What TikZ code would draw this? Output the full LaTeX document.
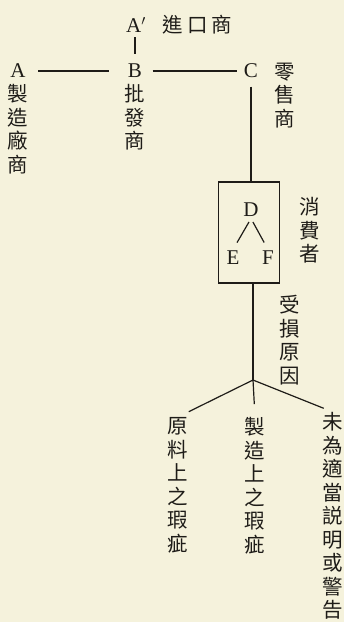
\documentclass[tikz,border=0pt]{standalone}
\usepackage{fontspec}
\newfontfamily\cjk{Noto Sans CJK TC}
\newfontfamily\latin{Liberation Serif}
\usetikzlibrary{positioning}
\definecolor{paper}{HTML}{F5F2DC}
\definecolor{ink}{HTML}{1E1C18}

\tikzset{
  letter/.style={font=\latin\fontsize{21}{24}\selectfont, inner sep=1pt, text=ink},
  hlabel/.style={font=\cjk\fontsize{20.5}{22}\selectfont, inner sep=0pt, text=ink},
  vlabel/.style={font=\cjk\fontsize{20.5}{23.5}\selectfont, align=center, inner sep=0pt, anchor=north, text=ink},
}

\begin{document}
\begin{tikzpicture}[x=1pt,y=-1pt,line width=1.2pt,draw=ink]
    \fill[paper] (0,0) rectangle (344,622);
    \useasboundingbox (0,0) rectangle (344,622);

    % channel
    \node[letter] (Ap) at (136,25) {A$'$};
    \node[hlabel,anchor=west] (importer) at (162,25) {進\hspace{4pt}口\hspace{4pt}商};
    \node[letter] (A) at (18,71) {A};
    \node[letter] (B) at (135,71) {B};
    \node[letter] (C) at (251,71) {C};
    \node[vlabel] (maker) at (18,84) {製\\造\\廠\\商};
    \node[vlabel] (wholesaler) at (135,84) {批\\發\\商};
    \node[vlabel] (retailer) at (285,62) {零\\售\\商};

    \draw[shorten <=3pt, shorten >=8pt] (Ap.south -| B) -- (B);
    \draw[shorten <=11pt, shorten >=17pt] (A) -- (B);
    \draw[shorten <=9pt, shorten >=5pt] (B) -- (C);

    % consumer
    \node[draw, minimum width=61pt, minimum height=101pt] (consumerbox) at (249,232.5) {};
    \draw[shorten <=7pt] (C) -- (C |- consumerbox.north);
    \node[letter] (D) at (251,210) {D};
    \node[letter] (E) at (233,258) {E};
    \node[letter] (F) at (268,258) {F};
    \draw[shorten <=4pt, shorten >=8pt] (D.south) -- (E.north);
    \draw[shorten <=4pt, shorten >=8pt] (D.south) -- (F.north);
    \node[vlabel] (consumer) at (310,197) {消\\費\\者};

    % causes
    \node[vlabel] (cause) at (290,295) {受\\損\\原\\因};
    \coordinate (split) at (253,380);
    \draw (split |- consumerbox.south) -- (split);
    \node[vlabel] (rawflaw) at (178,417) {原\\料\\上\\之\\瑕\\疵};
    \node[vlabel] (makeflaw) at (255,417) {製\\造\\上\\之\\瑕\\疵};
    \node[vlabel] (warning) at (333,412) {未\\為\\適\\當\\説\\明\\或\\警\\告};
    \draw[shorten >=12pt] (split) -- (rawflaw.north);
    \draw[shorten >=13pt] (split) -- (makeflaw.north);
    \draw[shorten >=10pt] (split) -- (warning.north);
\end{tikzpicture}
\end{document}
